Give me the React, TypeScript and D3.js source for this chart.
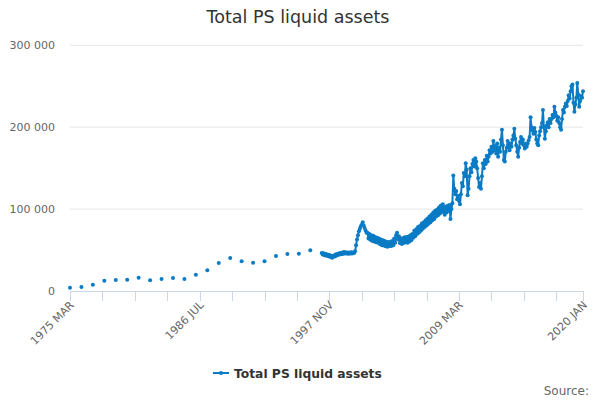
import React from "react";
import * as d3 from "d3";

const title = "Total PS liquid assets";
const seriesName = "Total PS liquid assets";
const startYear = 1975;
const startMonth = 2; // March (0-based)
const monthNames = ["JAN", "FEB", "MAR", "APR", "MAY", "JUN", "JUL", "AUG", "SEP", "OCT", "NOV", "DEC"];
const monthCount = 539; // 1975 MAR .. 2020 JAN
const tickStep = 34;
const xLabelIdx = [0, 136, 272, 408, 538];
const yTicks = [0, 100000, 200000, 300000];

// Annual observations, March 1975 .. March 1996
const annualValues = [
  4000, 4900, 7700, 12600, 13400, 13800, 16200, 13100, 14700, 15900, 14700,
  19900, 25300, 34200, 40300, 36300, 34600, 36300, 42700, 45200, 45500, 49700,
];

// Monthly observations, March 1997 .. January 2020
const monthlyValues = [
  // 1997 Mar - 1998 Feb
  46500, 44500, 46000, 43800, 45300, 43000, 44600, 42300, 44000, 41500, 43000, 40500,
  // 1998
  42000, 43800, 42200, 44800, 43600, 45500, 44200, 46300, 44800, 46800, 45300, 47500,
  // 1999
  45800, 47200, 45700, 47000, 45500, 46900, 45700, 47200, 45800, 47000, 46500, 48500,
  // 2000
  56000, 63000, 68000, 73000, 76000, 79000, 81000, 84000, 80000, 77000, 74000, 71000,
  // 2001
  71000, 64000, 69500, 62500, 68000, 61000, 67500, 60500, 66000, 59500, 65000, 59000,
  // 2002
  64000, 57500, 63000, 56000, 62000, 55500, 61000, 54500, 60000, 54000, 59500, 55000,
  // 2003
  60000, 55000, 61000, 56000, 64000, 59000, 68000, 71000, 63000, 67000, 58500, 64000,
  // 2004
  57500, 64500, 58500, 65500, 59500, 66000, 59000, 66500, 60500, 68000, 62000, 69500,
  // 2005
  65000, 73500, 67000, 75500, 69500, 78000, 71500, 79500, 73500, 82500, 76000, 84000,
  // 2006
  78000, 86500, 80000, 88500, 82000, 91000, 84000, 93000, 86500, 96000, 88000, 98000,
  // 2007
  91000, 99500, 92500, 102000, 94500, 104500, 96500, 106000, 97500, 93000, 103000, 96000,
  // 2008
  104000, 98000, 105000, 88000, 100000, 107000, 141000, 125000, 118000, 122000, 112000, 116000,
  // 2009
  110000, 106000, 118000, 132000, 128000, 144000, 140000, 156000, 148000, 117000, 125000, 140000,
  // 2010
  150000, 145000, 155000, 160000, 152000, 162000, 158000, 150000, 138000, 127000, 132000, 125000,
  // 2011
  140000, 156000, 150000, 160000, 155000, 165000, 158000, 164000, 172000, 168000, 176000, 170000,
  // 2012
  183000, 172000, 177000, 168000, 180000, 164000, 175000, 170000, 185000, 197000, 178000, 160000,
  // 2013
  158000, 170000, 175000, 183000, 176000, 172000, 180000, 176000, 185000, 190000, 198000, 186000,
  // 2014
  178000, 170000, 164000, 175000, 182000, 188000, 180000, 185000, 178000, 174000, 180000, 176000,
  // 2015
  180000, 184000, 188000, 212000, 200000, 196000, 192000, 199000, 194000, 185000, 180000, 178000,
  // 2016
  190000, 195000, 200000, 205000, 221000, 200000, 186000, 195000, 202000, 206000, 200000, 210000,
  // 2017
  205000, 210000, 215000, 212000, 225000, 218000, 214000, 208000, 212000, 205000, 200000, 197000,
  // 2018
  210000, 221000, 218000, 225000, 229000, 226000, 232000, 239000, 235000, 244000, 250000, 252000,
  // 2019 Mar - 2020 Jan
  230000, 219000, 228000, 236000, 254000, 240000, 225000, 232000, 238000, 236000, 244000,
];

const color = "#0a7bc4";

export default function App() {
  const width = 600;
  const height = 400;
  const left = 70;
  const right = 583;
  const top = 45.3;
  const bottom = 291;

  const categories = d3.range(monthCount).map((i) => {
    const m = startMonth + i;
    return `${startYear + Math.floor(m / 12)} ${monthNames[m % 12]}`;
  });

  const values: (number | null)[] = categories.map(() => null);
  annualValues.forEach((v, k) => (values[k * 12] = v));
  monthlyValues.forEach((v, k) => (values[264 + k] = v));

  const x = d3.scalePoint<string>().domain(categories).range([left, right]);
  const y = d3.scaleLinear().domain([0, 300000]).range([bottom, top]);

  const pts = categories.map((c, i) => ({ c, v: values[i] }));
  const line = d3
    .line<{ c: string; v: number | null }>()
    .defined((d) => d.v != null)
    .x((d) => x(d.c) as number)
    .y((d) => y(d.v as number));

  const tickIdx = d3.range(0, monthCount, tickStep);
  if (tickIdx[tickIdx.length - 1] !== monthCount - 1) tickIdx.push(monthCount - 1);

  const fmt = (v: number) => d3.format(",")(v).replace(/,/g, " ");
  const font = "'DejaVu Sans', sans-serif";

  return (
    <svg
      width={width}
      height={height}
      style={{ position: "absolute", left: 0, top: 0, fontFamily: font }}
    >
      <rect width={width} height={height} fill="#fff" />
      <text x={298} y={23} textAnchor="middle" fontSize={17.5} fill="#333">
        {title}
      </text>
      {yTicks.map((t) => (
        <g key={t}>
          {t > 0 && (
            <line x1={left} x2={right} y1={y(t)} y2={y(t)} stroke="#e6e6e6" strokeWidth={1} />
          )}
          <text x={55} y={y(t) + 4} textAnchor="end" fontSize={11} fill="#666">
            {fmt(t)}
          </text>
        </g>
      ))}
      <line x1={left} x2={right} y1={bottom + 0.5} y2={bottom + 0.5} stroke="#ccd6eb" strokeWidth={1} />
      {tickIdx.map((i) => {
        const xx = Math.round(x(categories[i]) as number) + 0.5;
        return (
          <line key={i} x1={xx} x2={xx} y1={bottom} y2={bottom + 10} stroke="#ccd6eb" strokeWidth={1} />
        );
      })}
      {xLabelIdx.map((i) => {
        const xx = (x(categories[i]) as number) + 2;
        const yy = bottom + 12;
        return (
          <text
            key={i}
            transform={`translate(${xx},${yy}) rotate(-45)`}
            textAnchor="end"
            fontSize={11}
            fill="#666"
            dy="0.35em"
          >
            {categories[i]}
          </text>
        );
      })}
      <path d={line(pts) || ""} fill="none" stroke={color} strokeWidth={2} strokeLinejoin="round" />
      {pts
        .filter((d) => d.v != null)
        .map((d) => (
          <circle key={d.c} cx={x(d.c)} cy={y(d.v as number)} r={2} fill={color} />
        ))}
      <g>
        <line x1={213} x2={229} y1={373} y2={373} stroke={color} strokeWidth={2} />
        <circle cx={221} cy={373} r={2} fill={color} />
        <text x={234} y={377.5} fontSize={12.3} fontWeight="bold" fill="#333">
          {seriesName}
        </text>
      </g>
      <text x={589} y={395} textAnchor="end" fontSize={12} fill="#666">
        Source:
      </text>
    </svg>
  );
}
